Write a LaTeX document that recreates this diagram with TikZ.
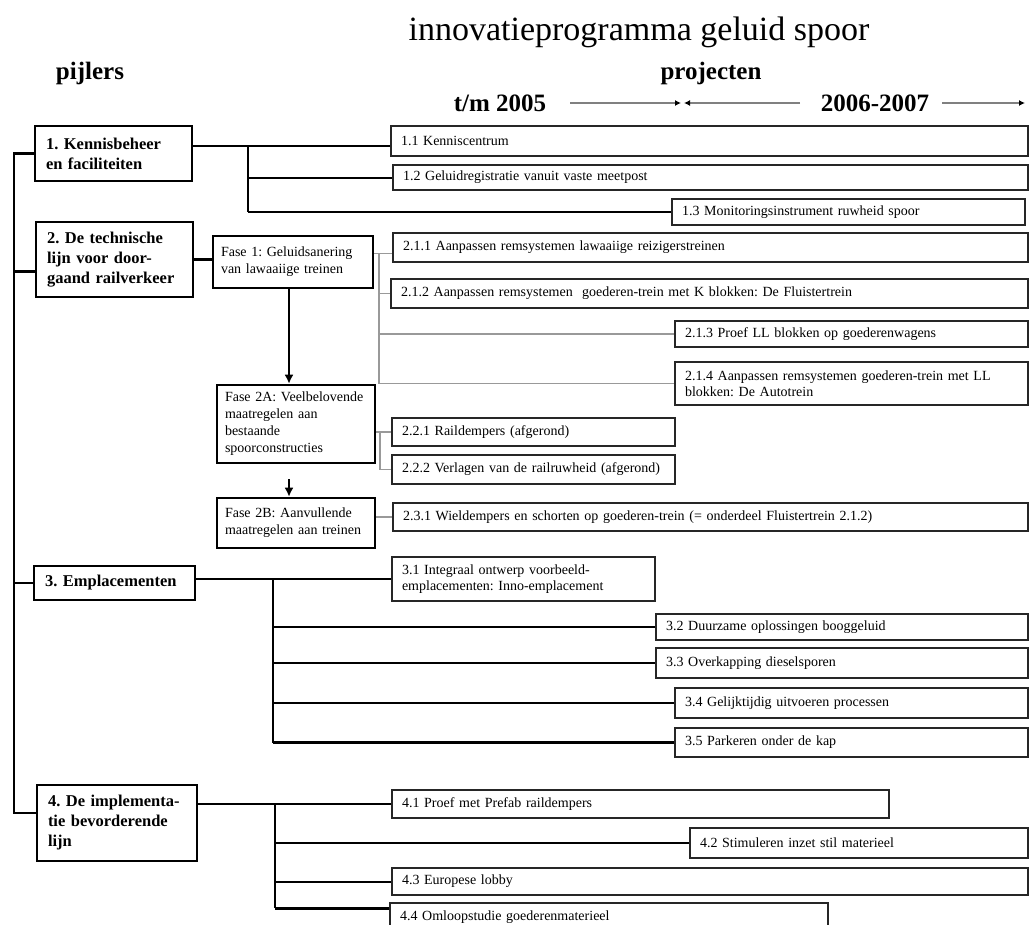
\documentclass[tikz,border=0pt]{standalone}
\usepackage{fontspec}
\setmainfont{Liberation Serif}
\usetikzlibrary{arrows.meta,calc}
\frenchspacing
\newcommand\mkbox[8]{%
 \pgfmathsetmacro\bxcx{(#3+#5)/2}%
 \pgfmathsetmacro\bxcy{-(#4+#6)/2}%
 \pgfmathsetmacro\bxw{#5-#3}%
 \pgfmathsetmacro\bxh{#6-#4}%
 \pgfmathsetmacro\bxtw{#5-#3-2*#7}%
 \node[#1, inner xsep=#7pt, minimum width=\bxw pt, minimum height=\bxh pt, text width=\bxtw pt] (#2) at (\bxcx pt,\bxcy pt) {#8};}
\tikzset{
 pillar/.style={draw, line width=2.6pt, align=left, inner ysep=2pt, font=\fontsize{16.5}{20}\selectfont\bfseries},
 fase/.style={draw, line width=2.6pt, align=left, inner ysep=2pt, font=\fontsize{14}{17}\selectfont},
 proj/.style={draw=black!85, line width=1.5pt, align=left, inner ysep=1pt, font=\fontsize{14}{16}\selectfont},
 conn/.style={line width=2pt},
 trunk/.style={line width=2.4pt},
 heavy/.style={line width=2.8pt},
 soft/.style={line width=1.2pt, black!40},
 hdr/.style={font=\fontsize{25}{30}\selectfont\bfseries, inner sep=0pt},
 harrow/.style={line width=1.2pt, black!50, -{Latex[black,length=6pt,width=6pt]}},
 farrow/.style={line width=2.6pt, -{Latex[length=9pt,width=9pt]}}
}
\begin{document}
\begin{tikzpicture}[x=1pt,y=1pt]
\path[use as bounding box, clip] (0,0) rectangle (1032,-924);
\fill[white] (0,0) rectangle (1032,-924);
% header
\node[font=\fontsize{34}{40}\selectfont, anchor=base, inner sep=0pt] (title) at (639,-40) {innovatieprogramma geluid spoor};
\node[hdr, anchor=base] (pij) at (90,-79) {pijlers};
\node[hdr, anchor=base] (proj) at (711,-79) {projecten};
\node[hdr, anchor=base] (tm) at (500,-111) {t/m 2005};
\node[hdr, anchor=base] (yr) at (875,-111) {2006-2007};
\coordinate (h1s) at (570,-103); \coordinate (h1e) at (681,-103);
\coordinate (h2s) at (800,-103); \coordinate (h2e) at (684,-103);
\coordinate (h3s) at (942,-103); \coordinate (h3e) at (1025,-103);
\draw[harrow] (h1s) -- (h1e);
\draw[harrow] (h2s) -- (h2e);
\draw[harrow] (h3s) -- (h3e);
% pillars
\mkbox{pillar}{P1}{35}{126}{192}{181}{11}{\mbox{1. Kennisbeheer}\\\mbox{en faciliteiten}}
\mkbox{pillar}{P2}{36}{222}{193}{297}{11}{\mbox{2. De technische}\\\mbox{lijn voor door-}\\\mbox{gaand railverkeer}}
\mkbox{pillar}{P3}{34}{566}{195}{600}{11}{\mbox{3. Emplacementen}}
\mkbox{pillar}{P4}{37}{785}{197}{861}{11}{\mbox{4. De implementa-}\\\mbox{tie bevorderende}\\\mbox{lijn}}
% fases
\mkbox{fase}{F1}{213}{236}{373}{288}{8}{\mbox{Fase 1: Geluidsanering}\\\mbox{van lawaaiige treinen}}
\mkbox{fase}{F2A}{217}{385}{375}{463}{8}{\mbox{Fase 2A: Veelbelovende}\\\mbox{maatregelen aan}\\\mbox{bestaande}\\\mbox{spoorconstructies}}
\mkbox{fase}{F2B}{217}{498}{375}{548}{8}{\mbox{Fase 2B: Aanvullende}\\\mbox{maatregelen aan treinen}}
% projects
\mkbox{proj}{b11}{391}{126}{1028}{156}{10}{1.1 Kenniscentrum}
\mkbox{proj}{b12}{393}{165}{1028}{190}{10}{1.2 Geluidregistratie vanuit vaste meetpost}
\mkbox{proj}{b13}{672}{199}{1025}{225}{10}{1.3 Monitoringsinstrument ruwheid spoor}
\mkbox{proj}{b211}{393}{233}{1028}{262}{10}{2.1.1 Aanpassen remsystemen lawaaiige reizigerstreinen}
\mkbox{proj}{b212}{391}{279}{1028}{308}{10}{2.1.2 Aanpassen remsystemen\ \ goederen-trein met K blokken: De Fluistertrein}
\mkbox{proj}{b213}{675}{321}{1028}{347}{10}{2.1.3 Proef LL blokken op goederenwagens}
\mkbox{proj}{b214}{675}{362}{1028}{405}{10}{2.1.4 Aanpassen remsystemen goederen-trein met LL\\blokken: De Autotrein}
\mkbox{proj}{b221}{392}{418}{675}{446}{10}{2.2.1 Raildempers (afgerond)}
\mkbox{proj}{b222}{392}{455}{675}{484}{10}{\mbox{2.2.2 Verlagen van de railruwheid (afgerond)}}
\mkbox{proj}{b231}{393}{503}{1028}{531}{10}{2.3.1 Wieldempers en schorten op goederen-trein (= onderdeel Fluistertrein 2.1.2)}
\mkbox{proj}{b31}{392}{557}{655}{601}{10}{\mbox{3.1 Integraal ontwerp voorbeeld-}\\\mbox{emplacementen: Inno-emplacement}}
\mkbox{proj}{b32}{656}{614}{1028}{640}{10}{3.2 Duurzame oplossingen booggeluid}
\mkbox{proj}{b33}{656}{648}{1028}{678}{10}{3.3 Overkapping dieselsporen}
\mkbox{proj}{b34}{675}{688}{1028}{718}{10}{3.4 Gelijktijdig uitvoeren processen}
\mkbox{proj}{b35}{675}{728}{1028}{757}{10}{3.5 Parkeren onder de kap}
\mkbox{proj}{b41}{392}{790}{889}{818}{10}{4.1 Proef met Prefab raildempers}
\mkbox{proj}{b42}{690}{828}{1028}{858}{10}{4.2 Stimuleren inzet stil materieel}
\mkbox{proj}{b43}{392}{868}{1028}{895}{10}{4.3 Europese lobby}
\mkbox{proj}{b44}{390}{903}{828}{931}{10}{4.4 Omloopstudie goederenmaterieel}
% left trunk
\coordinate (LT) at (14,0);
\draw[trunk] (P1.west) -- (LT |- P1.west) -- ($(LT |- P4.west)+(0,10)$) -- ($(P4.west)+(0,10)$);
\draw[trunk] ($(LT |- P2.west)+(0,-12)$) -- ($(P2.west)+(0,-12)$);
\draw[trunk] (LT |- P3.west) -- (P3.west);
% pillar 1
\coordinate (T1) at (248,0);
\draw[conn] ($(b11.west -| P1.east)+(0,-5)$) -- ($(b11.west)+(0,-5)$);
\draw[conn] ($(T1 |- b11.west)+(0,-5)$) -- (T1 |- b13.west);
\draw[conn] (T1 |- b12.west) -- (b12.west);
\draw[heavy] (T1 |- b13.west) -- (b13.west);
% pillar 2
\draw[trunk] (P2.east) -- (P2.east -| F1.west);
\coordinate (T2) at (379,0);
\draw[soft] ($(b211.west -| F1.east)+(0,-6)$) -- ($(b211.west)+(0,-6)$);
\draw[soft] ($(T2 |- b211.west)+(0,-6)$) -- (T2 |- b214.west) -- (b214.west);
\draw[soft] (T2 |- b212.west) -- (b212.west);
\draw[soft] (T2 |- b213.west) -- (b213.west);
\coordinate (T3) at (380,0);
\draw[soft] (b221.west -| F2A.east) -- (b221.west);
\draw[soft] (T3 |- b221.west) |- (b222.west);
\draw[soft] (b231.west -| F2B.east) -- (b231.west);
\coordinate (AX) at (289,0);
\draw[farrow] (F1.south -| AX) -- (F2A.north -| AX);
\draw[farrow] ($(F2A.south -| AX)+(0,-15)$) -- (F2B.north -| AX);
% pillar 3
\coordinate (T4) at (273,0);
\draw[conn] (b31.west -| P3.east) -- (b31.west);
\draw[conn] (T4 |- b31.west) -- (T4 |- b35.west);
\draw[conn] (T4 |- b32.west) -- (b32.west);
\draw[conn] (T4 |- b33.west) -- (b33.west);
\draw[conn] (T4 |- b34.west) -- (b34.west);
\draw[heavy] (T4 |- b35.west) -- (b35.west);
% pillar 4
\coordinate (T5) at (275,0);
\draw[conn] (b41.west -| P4.east) -- (b41.west);
\draw[conn] (T5 |- b41.west) -- ($(T5 |- b44.north)+(0,-6)$);
\draw[conn] (T5 |- b42.west) -- (b42.west);
\draw[conn] (T5 |- b43.west) -- (b43.west);
\draw[heavy] ($(T5 |- b44.north)+(0,-6)$) -- ($(b44.north west)+(0,-6)$);
\end{tikzpicture}
\end{document}
